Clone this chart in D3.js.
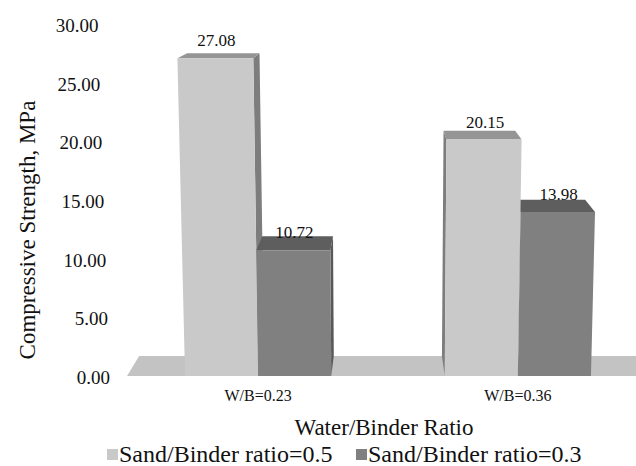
<!DOCTYPE html>
<html>
<head>
<meta charset="utf-8">
<script src="https://cdn.jsdelivr.net/npm/d3@7"></script>
<style>
  body { margin: 0; background: #fff; }
</style>
</head>
<body>
<div id="chart"></div>
<script>
// data
var categories = ["W/B=0.23", "W/B=0.36"];
var series = ["Sand/Binder ratio=0.5", "Sand/Binder ratio=0.3"];
var sand05 = [27.08, 20.15];
var sand03 = [10.72, 13.98];
var yTicks = [0, 5, 10, 15, 20, 25, 30];

var values = [sand05, sand03];
var faceColors = [
  { front: "#c9c9c9", top: "#959595", side: "#7d7d7d" },
  { front: "#808080", top: "#5e5e5e", side: "#585858" }
];

var width = 636, height = 466;

var svg = d3.select("#chart").append("svg")
  .attr("width", width).attr("height", height);

var y = d3.scaleLinear().domain([0, 30]).range([376, 24]);

var x = d3.scaleBand().domain(categories)
  .range([127, 649]).paddingInner(0.437).paddingOuter(0.2235);

var xs = d3.scaleBand().domain(series).range([0, x.bandwidth()]);

// perspective: vanishing point for depth, slight convergence of verticals
var VX = 385, VY = -49, T = 0.047, K = 0.00012;
var floorY = y(0);

function proj(X, Y, z) {
  var s = 1 + (floorY - Y) * K;
  var px = VX + (X - VX) * s;
  var py = Y;
  px += z * T * (VX - px);
  py += z * T * (VY - py);
  return [px, py];
}

function poly(pts) {
  return "M" + pts.map(function(p) { return p[0] + "," + p[1]; }).join("L") + "Z";
}

function label(sel, size) {
  return sel.style("font-family", "'Liberation Serif'")
    .style("font-size", size + "px")
    .style("fill", "#111");
}

// floor
var fx0 = x.range()[0], fx1 = 700;
svg.append("path")
  .attr("d", poly([proj(fx0, floorY, 0), proj(fx1, floorY, 0), proj(fx1, floorY, 1), proj(fx0, floorY, 1)]))
  .attr("fill", "#c3c3c3");

// bars
var bars = [];
categories.forEach(function(c, i) {
  series.forEach(function(s, j) {
    var x0 = x(c) + xs(s), x1 = x0 + xs.bandwidth();
    bars.push({ cat: c, ser: j, v: values[j][i], x0: x0, x1: x1 });
  });
});
// draw farthest from the vanishing point first
bars.sort(function(a, b) {
  return Math.abs((b.x0 + b.x1) / 2 - VX) - Math.abs((a.x0 + a.x1) / 2 - VX);
});

var g = svg.append("g");
bars.forEach(function(d) {
  var top = y(d.v), col = faceColors[d.ser];
  var sideX = (d.x1 < VX) ? d.x1 : d.x0;
  g.append("path")
    .attr("d", poly([proj(sideX, floorY, 0), proj(sideX, top, 0), proj(sideX, top, 1), proj(sideX, floorY, 1)]))
    .attr("fill", col.side);
  g.append("path")
    .attr("d", poly([proj(d.x0, top, 0), proj(d.x1, top, 0), proj(d.x1, top, 1), proj(d.x0, top, 1)]))
    .attr("fill", col.top);
  g.append("path")
    .attr("d", poly([proj(d.x0, floorY, 0), proj(d.x1, floorY, 0), proj(d.x1, top, 0), proj(d.x0, top, 0)]))
    .attr("fill", col.front);
});

// value labels
bars.forEach(function(d) {
  var top = y(d.v);
  var p = proj((d.x0 + d.x1) / 2, top, 0);
  svg.append("text")
    .attr("x", p[0] + 1).attr("y", p[1] - 12)
    .attr("text-anchor", "middle")
    .call(label, 17)
    .text(d.v.toFixed(2));
});

// y axis tick labels
svg.append("g").selectAll("text")
  .data(yTicks).enter().append("text")
  .attr("x", function(d) { return proj(110, y(d), 0)[0]; })
  .attr("y", function(d) { return y(d) + 8; })
  .attr("text-anchor", "end")
  .call(label, 19)
  .text(function(d) { return d.toFixed(2); });

// category labels
svg.append("g").selectAll("text")
  .data(categories).enter().append("text")
  .attr("x", function(d) { return x(d) + x.bandwidth() / 2; })
  .attr("y", 401)
  .attr("text-anchor", "middle")
  .call(label, 16)
  .text(function(d) { return d; });

// axis titles
svg.append("text")
  .attr("x", 384).attr("y", 435)
  .attr("text-anchor", "middle")
  .call(label, 23)
  .text("Water/Binder Ratio");

svg.append("text")
  .attr("transform", "translate(35,230) rotate(-90)")
  .attr("text-anchor", "middle")
  .call(label, 23)
  .text("Compressive Strength, MPa");

// legend
var legendX = [107, 356];
var legend = svg.append("g").selectAll("g")
  .data(series).enter().append("g")
  .attr("transform", function(d, i) { return "translate(" + legendX[i] + ",449)"; });
legend.append("rect")
  .attr("width", 11).attr("height", 11)
  .attr("fill", function(d, i) { return faceColors[i].front; });
legend.append("text")
  .attr("x", 12).attr("y", 13)
  .call(label, 24)
  .text(function(d) { return d; });
</script>
</body>
</html>
